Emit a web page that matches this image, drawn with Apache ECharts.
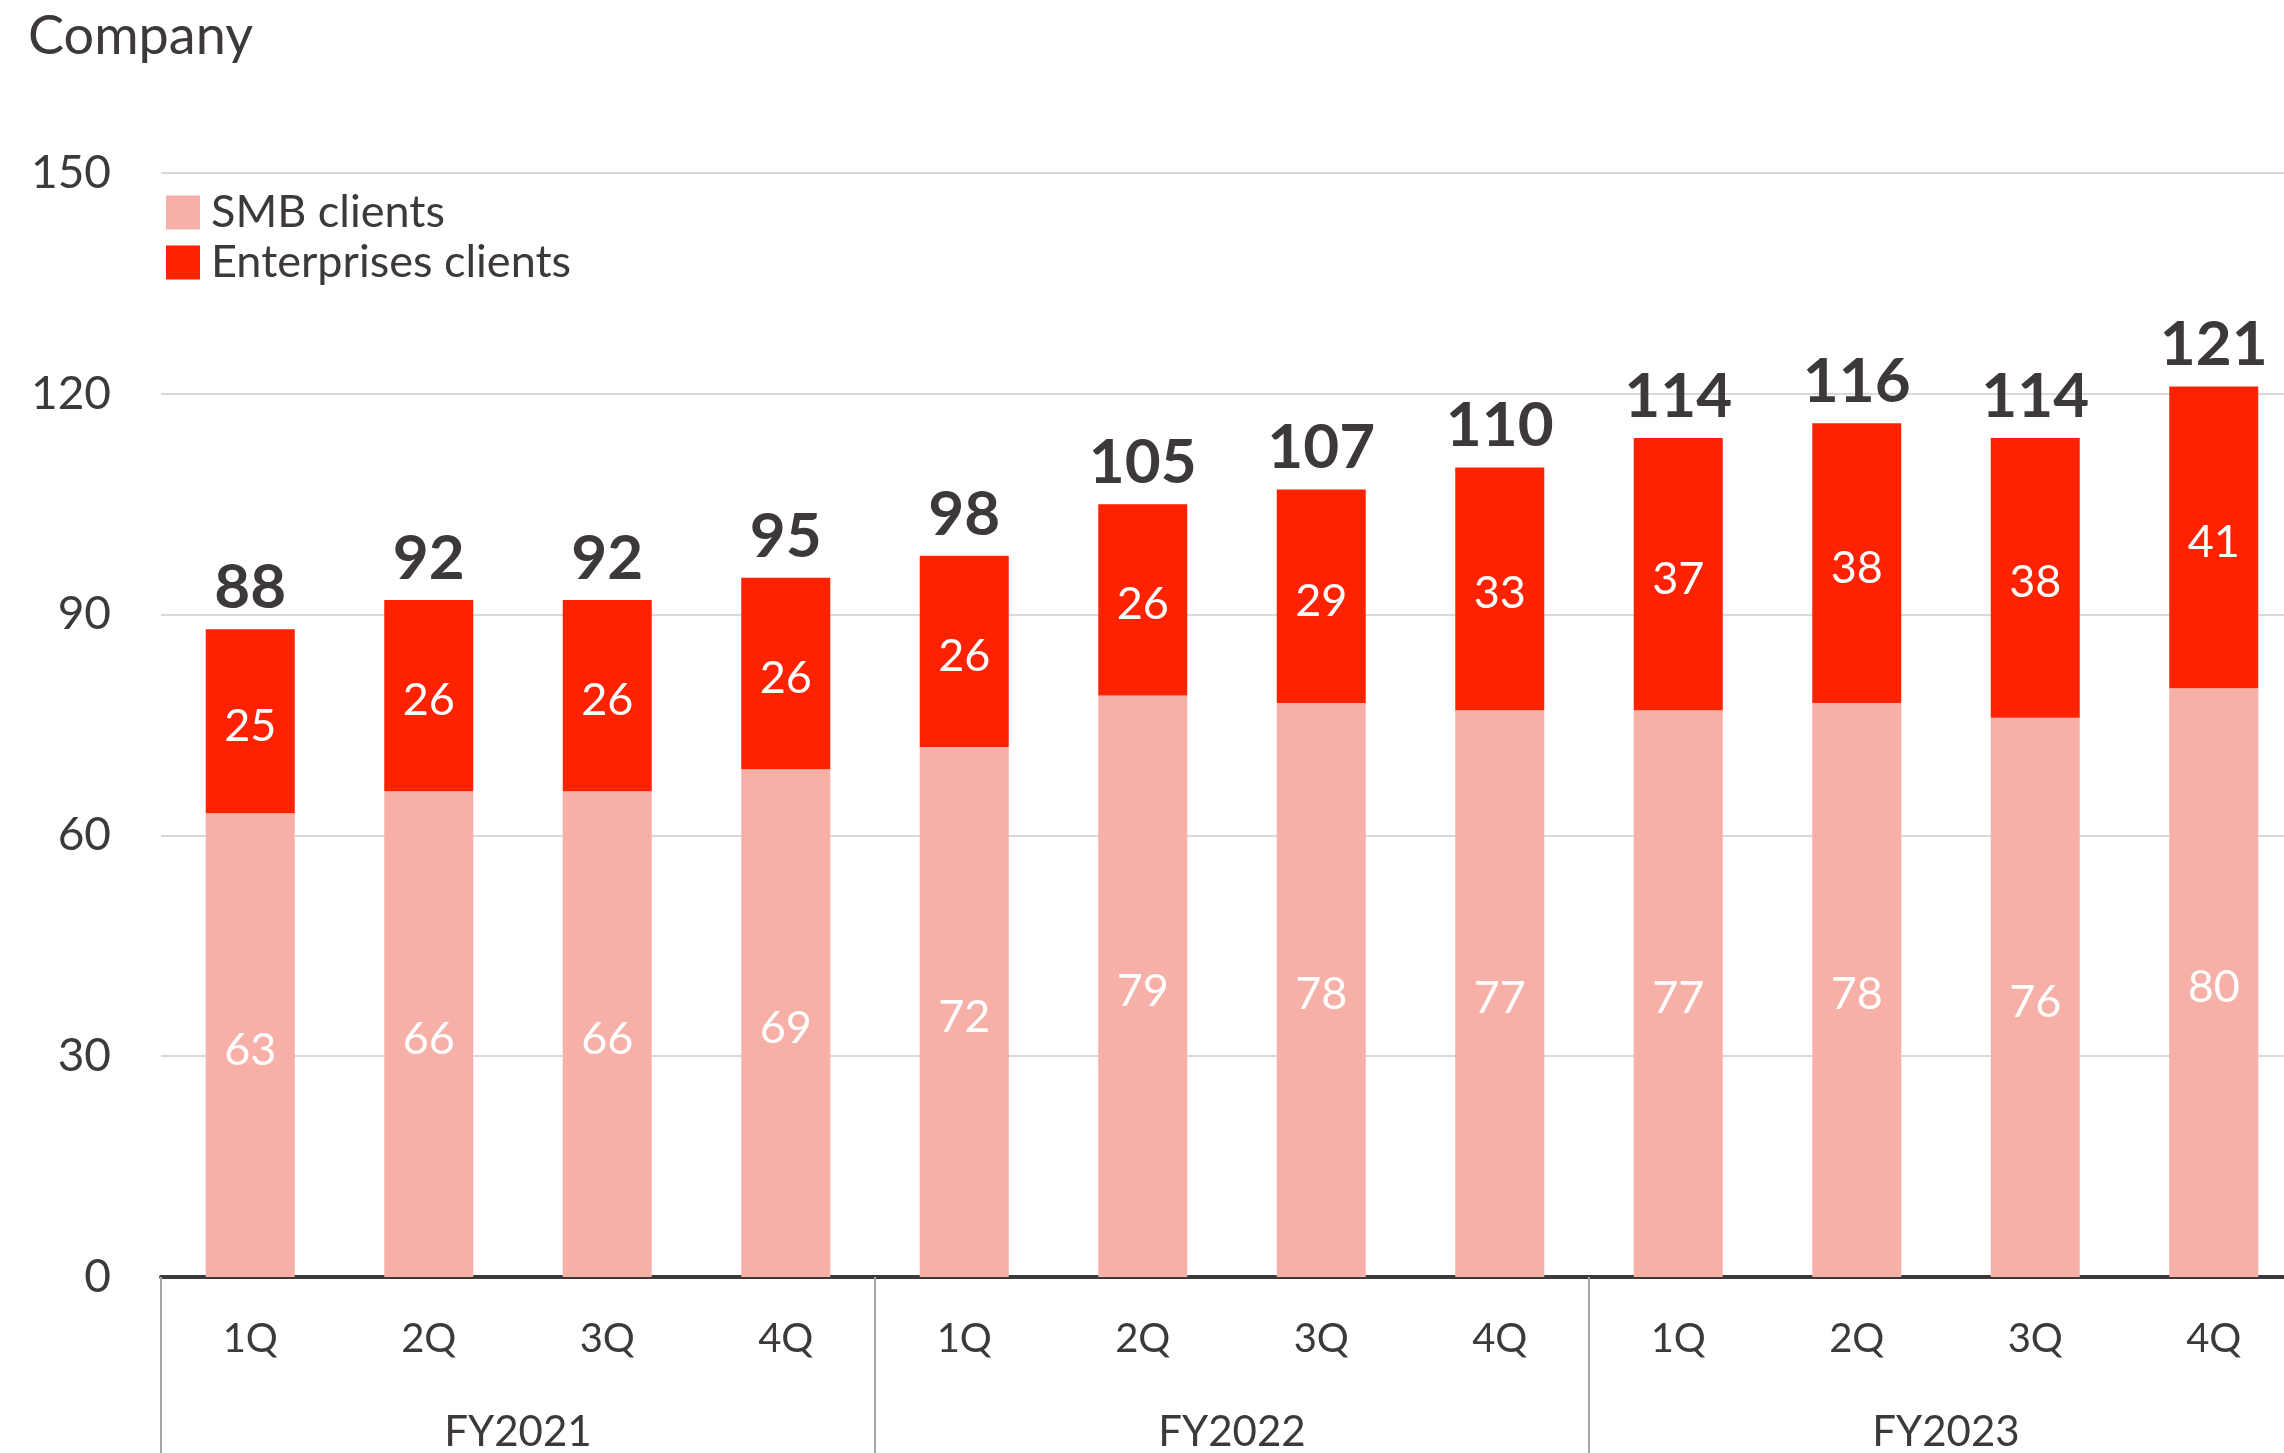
<!DOCTYPE html>
<html>
<head>
<meta charset="utf-8">
<script src="https://cdn.jsdelivr.net/npm/echarts@6/dist/echarts.min.js"></script>
<style>
html,body{margin:0;padding:0;background:#fff;overflow:hidden;}
#chart{width:2303px;height:1453px;}
</style>
</head>
<body>
<div id="chart"></div>
<script>
const quarters = ['1Q','2Q','3Q','4Q','1Q','2Q','3Q','4Q','1Q','2Q','3Q','4Q'];
const fiscalYears = ['FY2021','FY2022','FY2023'];
const smbClients = [63,66,66,69,72,79,78,77,77,78,76,80];
const enterpriseClients = [25,26,26,26,26,26,29,33,37,38,38,41];
const yTicks = [0,30,60,90,120,150];

const totals = smbClients.map((v,i)=>v+enterpriseClients[i]);
const FONT = 'Lato, "Noto Sans", sans-serif';
const TXT = '#3d3938';

const chart = echarts.init(document.getElementById('chart'));
chart.setOption({
  animation:false,
  backgroundColor:'#fff',
  title:{text:'Company',left:23,top:5,textStyle:{fontFamily:FONT,fontSize:54,fontWeight:'normal',color:TXT}},
  legend:{
    orient:'vertical',left:161,top:185,itemWidth:34,itemHeight:34,itemGap:5,icon:'rect',
    data:['SMB clients','Enterprises clients'],
    textStyle:{fontFamily:FONT,fontSize:45,color:TXT,padding:[0,0,0,6]}
  },
  grid:{left:161,right:0,top:173,bottom:176,containLabel:false},
  xAxis:[{
    type:'category',data:quarters,
    axisLine:{show:true,lineStyle:{color:'#3d3938',width:4}},
    axisTick:{show:false},
    axisLabel:{fontFamily:FONT,fontSize:40,color:TXT,margin:42,interval:0}
  },{
    type:'category',data:fiscalYears,position:'bottom',
    axisLine:{show:false},
    axisTick:{show:true,length:176,lineStyle:{color:'#a6a6a6',width:2}},
    axisLabel:{fontFamily:FONT,fontSize:42,color:TXT,margin:134,interval:0}
  }],
  yAxis:{
    type:'value',min:yTicks[0],max:yTicks[yTicks.length-1],interval:30,
    axisLine:{show:false},axisTick:{show:false},
    axisLabel:{fontFamily:FONT,fontSize:46,color:TXT,margin:50},
    splitLine:{lineStyle:{color:'#d9d9d9',width:2}}
  },
  series:[{
    name:'SMB clients',type:'bar',stack:'a',data:smbClients,barWidth:89,
    itemStyle:{color:'#f6b0a7'},
    label:{show:true,position:'inside',offset:[0,5],color:'#fff',fontFamily:FONT,fontSize:45}
  },{
    name:'Enterprises clients',type:'bar',stack:'a',data:enterpriseClients,barWidth:89,
    itemStyle:{color:'#ff2200'},
    label:{show:true,position:'inside',offset:[0,5],color:'#fff',fontFamily:FONT,fontSize:45}
  },{
    name:'Total',type:'bar',stack:'a',data:totals.map(()=>0),barWidth:89,
    itemStyle:{color:'transparent'},
    label:{show:true,position:'top',distance:10,color:TXT,fontFamily:FONT,fontSize:62,fontWeight:'bold',
      formatter:p=>totals[p.dataIndex]}
  }]
});
</script>
</body>
</html>
